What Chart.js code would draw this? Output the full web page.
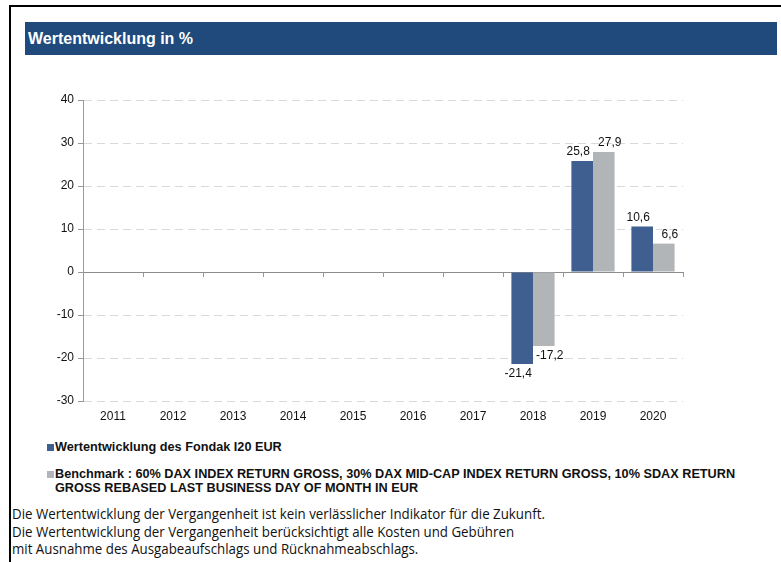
<!DOCTYPE html>
<html>
<head>
<meta charset="utf-8">
<script src="https://cdn.jsdelivr.net/npm/chart.js@4"></script>
<style>
  html, body { margin:0; padding:0; background:#fff; width:781px; height:562px; overflow:hidden; }
  .frame { position:absolute; left:9px; top:5px; width:800px; height:600px; border-left:2px solid #000; border-top:2px solid #000; }
  .head { position:absolute; left:25px; top:22px; width:752px; height:33px; background:#204a7c;
          color:#fff; font:bold 16px "Liberation Sans", Arial, sans-serif; line-height:34px; box-sizing:border-box; padding-left:3px; }
  #wrap { position:absolute; left:20px; top:80px; width:680px; height:350px; }
  .legend { position:absolute; left:47px; width:730px; font:bold 12.7px "Liberation Sans", Arial, sans-serif; color:#111; line-height:14px; }
  .legend .item { display:flex; align-items:flex-start; }
  .legend .sw { width:7px; height:7px; margin:4px 1px 0 0; flex:none; }
  .legend .tx { width:705px; }
  .foot { position:absolute; left:12px; top:505px; font:15px "Open Sans", sans-serif; color:#111; line-height:17.5px;
          transform:scaleX(0.887); transform-origin:0 0; white-space:nowrap; }
</style>
</head>
<body>
<div class="frame"></div>
<div class="head">Wertentwicklung in %</div>
<div id="wrap"><canvas id="chart"></canvas></div>
<div class="legend" style="top:440px" id="lg1"></div>
<div class="legend" style="top:467px" id="lg2"></div>
<div class="foot">
Die Wertentwicklung der Vergangenheit ist kein verlässlicher Indikator für die Zukunft.<br>
Die Wertentwicklung der Vergangenheit berücksichtigt alle Kosten und Gebühren<br>
mit Ausnahme des Ausgabeaufschlags und Rücknahmeabschlags.
</div>
<script>
'use strict';

/* ─── Data ─────────────────────────────────────────────────────── */
const years      = ['2011','2012','2013','2014','2015','2016','2017','2018','2019','2020'];
const fundValues = [null, null, null, null, null, null, null, -21.4, 25.8, 10.6];
const benchValues= [null, null, null, null, null, null, null, -17.2, 27.9, 6.6];
const fundLabel  = 'Wertentwicklung des Fondak I20 EUR';
const benchLabel = 'Benchmark : 60% DAX INDEX RETURN GROSS, 30% DAX MID-CAP INDEX RETURN GROSS, 10% SDAX RETURN GROSS REBASED LAST BUSINESS DAY OF MONTH IN EUR';

const BLUE = '#3e5f8f', GREY = '#b2b5b8';

/* ─── Legend (html, wraps like the original) ───────────────────── */
function legendItem(id, color, text) {
  const el = document.getElementById(id);
  el.innerHTML = '<div class="item"><span class="sw" style="background:' + color + '"></span><span class="tx">' + text + '</span></div>';
}
legendItem('lg1', BLUE, fundLabel);
legendItem('lg2', GREY, benchLabel);

/* ─── Value labels above / below bars ──────────────────────────── */
const valueLabels = {
  id: 'valueLabels',
  afterDatasetsDraw(chart) {
    const ctx = chart.ctx;
    ctx.save();
    ctx.font = '12px "Liberation Sans", Arial, sans-serif';
    ctx.fillStyle = '#111';
    ctx.textAlign = 'center';
    chart.data.datasets.forEach((ds, di) => {
      const meta = chart.getDatasetMeta(di);
      const nudge = di === 0 ? -4 : 6;
      meta.data.forEach((bar, i) => {
        const v = ds.data[i];
        if (v === null || v === undefined) return;
        const txt = v.toFixed(1).replace('.', ',');
        if (v >= 0) { ctx.textBaseline = 'bottom'; ctx.fillText(txt, bar.x + nudge, bar.y - 3); }
        else        { ctx.textBaseline = 'top';    ctx.fillText(txt, bar.x + nudge, bar.y + 4); }
      });
    });
    ctx.restore();
  }
};

new Chart(document.getElementById('chart'), {
  type: 'bar',
  data: {
    labels: years,
    datasets: [
      { label: fundLabel,  data: fundValues,  backgroundColor: BLUE, categoryPercentage: 0.72, barPercentage: 1, xAxisID: 'x' },
      { label: benchLabel, data: benchValues, backgroundColor: GREY, categoryPercentage: 0.72, barPercentage: 1, xAxisID: 'x' }
    ]
  },
  options: {
    responsive: true,
    maintainAspectRatio: false,
    animation: false,
    layout: { padding: { top: 20, right: 17, bottom: 0, left: 0 } },
    plugins: { legend: { display: false }, tooltip: { enabled: false } },
    scales: {
      x: {
        position: 'bottom',
        grid: { display: false },
        border: { display: false },
        ticks: { color: '#111', font: { size: 12, family: '"Liberation Sans", Arial, sans-serif' }, padding: 0, maxRotation: 0 },
        afterFit: s => { s.height = 29; }
      },
      zero: {
        axis: 'x',
        type: 'category',
        labels: years,
        position: { y: 0 },
        offset: true,
        grid: { drawOnChartArea: false, tickLength: 4, color: '#999', tickColor: '#999' },
        border: { display: true, color: '#8c8c8c', width: 1 },
        ticks: { display: false }
      },
      y: {
        min: -30, max: 40,
        ticks: { stepSize: 10, color: '#111', font: { size: 12, family: '"Liberation Sans", Arial, sans-serif' }, padding: 4 },
        grid: { color: '#d9d9d9', tickColor: '#999', tickLength: 5 },
        border: { display: true, color: '#999', dash: [8, 5] },
        afterFit: s => { s.width = 63; }
      }
    }
  },
  plugins: [valueLabels]
});
</script>
</body>
</html>
